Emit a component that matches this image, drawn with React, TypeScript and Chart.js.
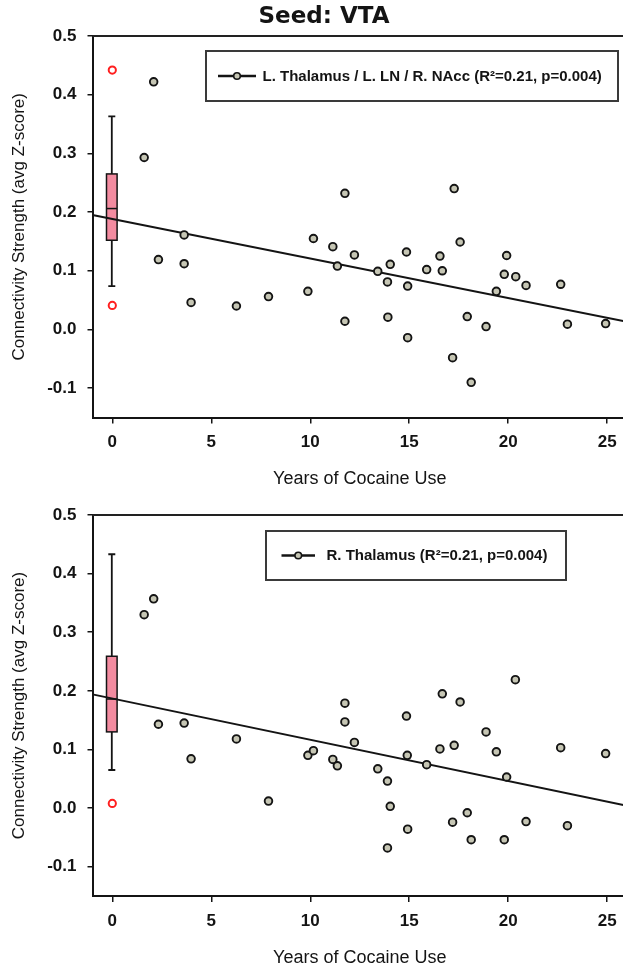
import { useEffect, useRef } from 'react';
import { Chart, registerables } from 'chart.js';

Chart.register(...registerables);

// ---------- data ----------
const chartTitle = 'Seed: VTA';
const xTitle = 'Years of Cocaine Use';
const yTitle = 'Connectivity Strength (avg Z-score)';
const xTicks = [0, 5, 10, 15, 20, 25];
const yTicks = [-0.1, 0.0, 0.1, 0.2, 0.3, 0.4, 0.5];
const controlX = 0;

const topLegend = 'L. Thalamus / L. LN / R. NAcc (R\u00B2=0.21, p=0.004)';
const topYears = [
  1.61, 2.09, 2.33, 3.63, 3.63, 3.98, 6.27, 7.89, 9.88, 10.16, 11.14, 11.37, 11.75, 11.75,
  12.23, 13.41, 13.9, 13.92, 14.04, 14.86, 14.92, 14.92, 15.88, 16.55, 16.67, 17.19, 17.27,
  17.57, 17.93, 18.13, 18.88, 19.4, 19.8, 19.92, 20.38, 20.9, 22.65, 22.99, 24.92,
];
const topStrength = [
  0.293, 0.422, 0.119, 0.161, 0.112, 0.046, 0.04, 0.056, 0.065, 0.155, 0.141, 0.108, 0.232, 0.014,
  0.127, 0.099, 0.081, 0.021, 0.111, 0.132, 0.074, -0.014, 0.102, 0.125, 0.1, -0.048, 0.24,
  0.149, 0.022, -0.09, 0.005, 0.065, 0.094, 0.126, 0.09, 0.075, 0.077, 0.009, 0.01,
];
// box: lower whisker, Q1, median, Q3, upper whisker
const topBox = [0.074, 0.152, 0.206, 0.265, 0.363];
const topOutliers = [0.442, 0.041];
const topFitYears = [-1, 26];
const topFitStrength = [0.195, 0.013];

const bottomLegend = 'R. Thalamus (R\u00B2=0.21, p=0.004)';
const bottomYears = [
  1.61, 2.09, 2.33, 3.63, 3.98, 6.27, 7.89, 9.88, 10.16, 11.14, 11.37, 11.75, 11.75, 12.23,
  13.41, 13.9, 14.04, 13.9, 14.86, 14.9, 14.92, 15.88, 16.55, 16.67, 17.27, 17.19, 17.57,
  17.93, 18.13, 18.88, 19.4, 19.92, 19.8, 20.36, 20.9, 22.65, 22.99, 24.92,
];
const bottomStrength = [
  0.33, 0.357, 0.143, 0.145, 0.084, 0.118, 0.012, 0.09, 0.098, 0.083, 0.072, 0.179, 0.147, 0.112,
  0.067, 0.046, 0.003, -0.068, 0.157, 0.09, -0.036, 0.074, 0.101, 0.195, 0.107, -0.024, 0.181,
  -0.008, -0.054, 0.13, 0.096, 0.053, -0.054, 0.219, -0.023, 0.103, -0.03, 0.093,
];
const bottomBox = [0.065, 0.13, 0.186, 0.259, 0.433];
const bottomOutliers = [0.008];
const bottomFitYears = [-1, 26];
const bottomFitStrength = [0.194, 0.004];

// ---------- styles ----------
const FAMILY = '"Liberation Sans", Arial, sans-serif';
const INK = '#141414';
const POINT_FILL = '#c6c6b4';
const BOX_FILL = '#f38ba0';
const OUTLIER = '#ff1f1f';

const framePlugin = {
  id: 'frameTop',
  beforeDatasetsDraw(chart: any) {
    const { ctx, chartArea } = chart;
    ctx.save();
    ctx.strokeStyle = '#222';
    ctx.lineWidth = 2;
    ctx.beginPath();
    ctx.moveTo(chartArea.left, chartArea.top);
    ctx.lineTo(chartArea.right, chartArea.top);
    ctx.stroke();
    ctx.restore();
  },
};

const boxPlugin = {
  id: 'boxplot',
  beforeDatasetsDraw(chart: any, _args: any, opts: any) {
    const { ctx } = chart;
    const xs = chart.scales.x;
    const ys = chart.scales.y;
    const [lo, q1, med, q3, hi] = opts.stats as number[];
    const cx = xs.getPixelForValue(controlX) - 0.5;
    const hw = opts.halfWidth;
    const cap = opts.cap;
    const py = (v: number) => ys.getPixelForValue(v);
    ctx.save();
    ctx.strokeStyle = INK;
    ctx.lineWidth = 1.8;
    ctx.beginPath();
    ctx.moveTo(cx, py(hi));
    ctx.lineTo(cx, py(q3));
    ctx.moveTo(cx, py(q1));
    ctx.lineTo(cx, py(lo));
    ctx.moveTo(cx - cap, py(hi));
    ctx.lineTo(cx + cap, py(hi));
    ctx.moveTo(cx - cap, py(lo));
    ctx.lineTo(cx + cap, py(lo));
    ctx.stroke();
    ctx.fillStyle = BOX_FILL;
    ctx.lineWidth = 1.5;
    ctx.fillRect(cx - hw, py(q3), hw * 2, py(q1) - py(q3));
    ctx.strokeRect(cx - hw, py(q3), hw * 2, py(q1) - py(q3));
    ctx.beginPath();
    ctx.moveTo(cx - hw, py(med));
    ctx.lineTo(cx + hw, py(med));
    ctx.stroke();
    ctx.restore();
  },
};

const legendPlugin = {
  id: 'insetLegend',
  afterDatasetsDraw(chart: any, _args: any, opts: any) {
    const { ctx } = chart;
    const { box, lineFrom, lineTo, textX, text } = opts;
    const midY = box[1] + box[3] / 2;
    ctx.save();
    ctx.fillStyle = '#fff';
    ctx.fillRect(box[0], box[1], box[2], box[3]);
    ctx.strokeStyle = '#3a3a3a';
    ctx.lineWidth = 2;
    ctx.strokeRect(box[0], box[1], box[2], box[3]);
    ctx.strokeStyle = INK;
    ctx.lineWidth = 2.5;
    ctx.beginPath();
    ctx.moveTo(lineFrom, midY);
    ctx.lineTo(lineTo, midY);
    ctx.stroke();
    ctx.beginPath();
    ctx.arc((lineFrom + lineTo) / 2, midY, 3.3, 0, Math.PI * 2);
    ctx.fillStyle = POINT_FILL;
    ctx.fill();
    ctx.lineWidth = 1.6;
    ctx.stroke();
    ctx.fillStyle = INK;
    ctx.font = `bold 15px ${FAMILY}`;
    ctx.textAlign = 'left';
    ctx.textBaseline = 'middle';
    ctx.fillText(text, textX, midY + 0.5);
    ctx.restore();
  },
};

const titlePlugin = {
  id: 'seedTitle',
  afterDraw(chart: any, _args: any, opts: any) {
    if (!opts.text) return;
    const { ctx } = chart;
    ctx.save();
    ctx.fillStyle = INK;
    ctx.font = 'bold 23px "DejaVu Sans", sans-serif';
    ctx.textAlign = 'center';
    ctx.textBaseline = 'middle';
    ctx.fillText(opts.text, opts.x, opts.y);
    ctx.restore();
  },
};

type Spec = {
  height: number;
  areaTop: number;
  areaBottom: number;
  xTitlePad: number;
  years: number[];
  strength: number[];
  box: number[];
  outliers: number[];
  fitYears: number[];
  fitStrength: number[];
  legend: any;
  title: any;
};

function build(canvas: HTMLCanvasElement, s: Spec) {
  const tickFont = { family: FAMILY, size: 17, weight: 'bold' as const };
  return new Chart(canvas, {
    type: 'scatter',
    data: {
      datasets: [
        {
          label: 'points',
          data: s.years.map((x, i) => ({ x, y: s.strength[i] })),
          pointRadius: 3.8,
          pointBorderWidth: 1.9,
          pointBackgroundColor: POINT_FILL,
          pointBorderColor: INK,
          order: 0,
        },
        {
          label: 'outliers',
          data: s.outliers.map((y) => ({ x: controlX, y })),
          pointRadius: 3.6,
          pointBorderWidth: 2,
          pointBackgroundColor: '#fff',
          pointBorderColor: OUTLIER,
          order: 0,
        },
        {
          type: 'line',
          label: 'fit',
          data: s.fitYears.map((x, i) => ({ x, y: s.fitStrength[i] })),
          borderColor: INK,
          borderWidth: 2,
          pointRadius: 0,
          fill: false,
          order: 2,
        } as any,
      ],
    },
    options: {
      responsive: false,
      animation: false,
      events: [],
      layout: { padding: { top: s.areaTop, left: 0, right: 0, bottom: 0 } },
      scales: {
        x: {
          type: 'linear',
          min: -1,
          max: 26,
          afterBuildTicks: (sc: any) => {
            sc.ticks = xTicks.map((v) => ({ value: v }));
          },
          afterFit: (sc: any) => {
            sc.height = s.height - s.areaBottom;
          },
          ticks: {
            font: tickFont,
            color: INK,
            padding: 9,
            maxRotation: 0,
            autoSkip: false,
            callback: (v: any) => String(v),
          },
          grid: { drawOnChartArea: false, drawTicks: true, tickLength: 6, color: INK, lineWidth: 1.5 },
          border: { display: true, color: INK, width: 2 },
          title: {
            display: true,
            text: xTitle,
            color: INK,
            font: { family: FAMILY, size: 18 },
            padding: { top: 0, bottom: s.xTitlePad },
          },
        },
        y: {
          type: 'linear',
          min: -0.15,
          max: 0.5,
          afterBuildTicks: (sc: any) => {
            sc.ticks = yTicks.map((v) => ({ value: v }));
          },
          afterFit: (sc: any) => {
            sc.width = 92.5;
          },
          ticks: {
            font: tickFont,
            color: INK,
            padding: 11,
            callback: (v: any) => Number(v).toFixed(1),
          },
          grid: { drawOnChartArea: false, drawTicks: true, tickLength: 5, color: INK, lineWidth: 1.5 },
          border: { display: true, color: INK, width: 2 },
          title: {
            display: true,
            text: yTitle,
            color: INK,
            font: { family: FAMILY, size: 17 },
            padding: { top: 9, bottom: 0 },
          },
        },
      },
      plugins: {
        legend: { display: false },
        tooltip: { enabled: false },
        boxplot: { stats: s.box, halfWidth: 5.3, cap: 3.5 },
        insetLegend: s.legend,
        seedTitle: s.title,
      } as any,
    },
    plugins: [framePlugin, boxPlugin, legendPlugin, titlePlugin],
  });
}

export default function App() {
  const topRef = useRef<HTMLCanvasElement>(null);
  const bottomRef = useRef<HTMLCanvasElement>(null);

  useEffect(() => {
    const charts: Chart[] = [];
    if (topRef.current) {
      charts.push(
        build(topRef.current, {
          height: 490,
          areaTop: 36,
          areaBottom: 417.5,
          xTitlePad: 0,
          years: topYears,
          strength: topStrength,
          box: topBox,
          outliers: topOutliers,
          fitYears: topFitYears,
          fitStrength: topFitStrength,
          legend: { box: [206, 51, 412, 50], lineFrom: 218, lineTo: 256, textX: 262.5, text: topLegend },
          title: { text: chartTitle, x: 324, y: 17 },
        })
      );
    }
    if (bottomRef.current) {
      charts.push(
        build(bottomRef.current, {
          height: 485,
          areaTop: 25,
          areaBottom: 406,
          xTitlePad: 6.2,
          years: bottomYears,
          strength: bottomStrength,
          box: bottomBox,
          outliers: bottomOutliers,
          fitYears: bottomFitYears,
          fitStrength: bottomFitStrength,
          legend: { box: [266, 41, 300, 49], lineFrom: 281.5, lineTo: 315, textX: 326.5, text: bottomLegend },
          title: { text: '' },
        })
      );
    }
    return () => charts.forEach((c) => c.destroy());
  }, []);

  return (
    <div
      style={{
        position: 'absolute',
        left: 0,
        top: 0,
        width: 623,
        height: 975,
        overflow: 'hidden',
        background: '#fff',
      }}
    >
      <canvas ref={topRef} width={633} height={490} style={{ display: 'block' }} />
      <canvas ref={bottomRef} width={633} height={485} style={{ display: 'block' }} />
    </div>
  );
}
